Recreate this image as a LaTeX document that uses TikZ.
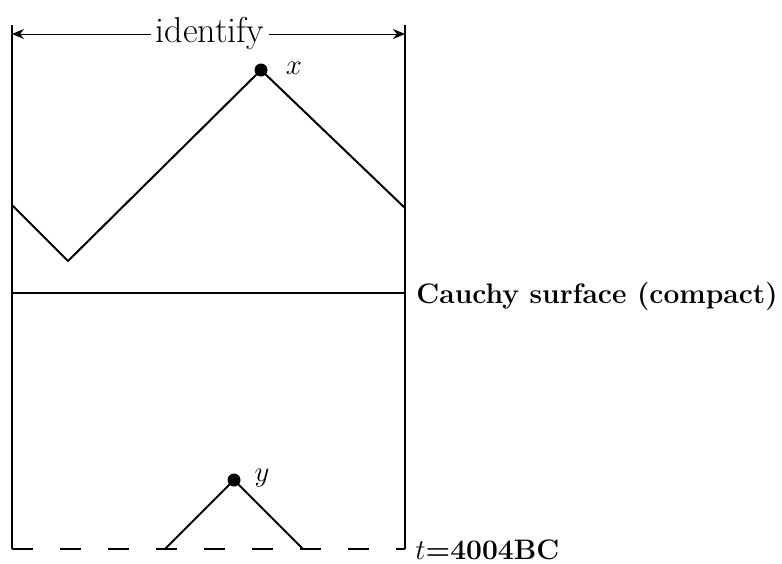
\documentclass[tikz,border=0pt]{standalone}
\usepackage{tikz}
\usetikzlibrary{arrows.meta}
\tikzset{
  wall/.style    = {line width=1pt},
  past/.style    = {line width=1pt, dash pattern=on 10.5pt off 13.5pt},
  span/.style    = {-{Stealth[length=6pt, width=5pt]}, line width=0.5pt},
  event/.style   = {circle, fill, inner sep=0pt, minimum size=6.5pt},
  title/.style   = {font=\fontsize{18}{21}\selectfont, inner sep=2pt},
  tag/.style     = {font=\fontsize{14.1}{17}\selectfont\bfseries, inner sep=0pt},
  evlabel/.style = {font=\fontsize{15}{18}\selectfont},
}

\begin{document}
\begin{tikzpicture}[x=0.5pt, y=-0.5pt]
    \useasboundingbox (0,0) rectangle (782,563);
    % --- frame --------------------------------------------------------
    \coordinate (tl) at (12,25);
    \coordinate (bl) at (12,549);
    \coordinate (tr) at (405,25);
    \coordinate (br) at (405,549);
    \draw[wall] (tl) -- (bl);
    \draw[wall] (tr) -- (br);
    \draw[past] (bl) -- (br);
    % --- identify -----------------------------------------------------
    \coordinate (al) at (12,34);
    \coordinate (ar) at (405,34);
    \node[title] (ident) at (210,34) {identify};
    \draw[span] (ident) -- (al);
    \draw[span] (ident) -- (ar);
    % --- Cauchy surface -----------------------------------------------
    \coordinate (c0) at (12,293);
    \coordinate (c1) at (405,293);
    \draw[wall] (c0) -- (c1);
    \node[tag, anchor=west] (cauchy) at (416,296) {Cauchy surface (compact)};
    % --- big cone -----------------------------------------------------
    \coordinate (z0) at (12,205);
    \coordinate (z1) at (68,261);
    \coordinate (z3) at (405,208);
    \node[event] (x) at (261,70) {};
    \node[evlabel] (xlab) at (294,68) {$x$};
    \draw[wall] (z0) -- (z1) -- (x.center) -- (z3);
    % --- small cone ---------------------------------------------------
    \coordinate (f1) at (165,549);
    \coordinate (f2) at (303,549);
    \node[event] (y) at (234,480) {};
    \node[evlabel] (ylab) at (262,478) {$y$};
    \draw[wall] (f1) -- (y.center) -- (f2);
    % --- initial time -------------------------------------------------
    \node[tag, anchor=base west] (tzero) at (415,559) {$t$=4004BC};
  \end{tikzpicture}
\end{document}
